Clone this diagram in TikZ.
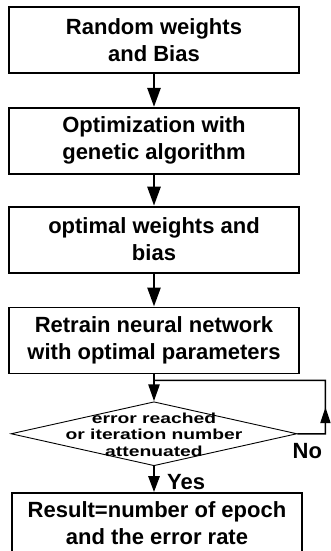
\documentclass[tikz,border=0pt]{standalone}
\usepackage{fontspec}
\setmainfont{Liberation Sans}
\newfontfamily\widesans[FakeStretch=1.33]{Liberation Sans}
\usepackage{tikz}
\usetikzlibrary{shapes.geometric, arrows.meta, positioning, calc}
\tikzset{
    block/.style={
        rectangle,
        minimum width=290pt,
        minimum height=66pt,
        align=center,
        draw=black,
        line width=1.8pt,
        inner sep=2pt,
        font=\bfseries\fontsize{22}{27}\selectfont
    },
    decision/.style={
        diamond,
        minimum width=286pt,
        minimum height=64pt,
        draw=black,
        line width=0.9pt,
        inner sep=0pt
    },
    decisiontext/.style={
        align=center,
        inner sep=0pt,
        font=\widesans\bfseries\fontsize{14.5}{16.5}\selectfont
    },
    lbl/.style={
        inner sep=0pt,
        font=\bfseries\fontsize{22}{27}\selectfont
    },
    arrow/.style={
        line width=2.6pt,
        -{Triangle[width=13pt,length=19pt]}
    },
    loopline/.style={
        line width=1.5pt
    }
}
\begin{document}
\begin{tikzpicture}

    \useasboundingbox (0,0) rectangle (331pt,-551pt);

    % --- main column ---
    \node (init) [block] at (154pt,-40pt) {Random weights\\and Bias};
    \node (genetic) [block, below=33pt of init] {Optimization with\\genetic algorithm};
    \node (optimal) [block, below=31pt of genetic] {optimal weights and\\bias};
    \node (retrain) [block, below=33pt of optimal] {Retrain neural network\\with optimal parameters};

    % --- test ---
    \node (check) [decision, below=27pt of retrain] {};
    \node (checktext) [decisiontext, yshift=-1pt] at (check) {error reached\\or iteration number\\attenuated};

    \node (result) [block, below=26pt of check, xshift=3pt, minimum height=67pt, text depth=7pt] {Result=number of epoch\\and the error rate};

    \draw [arrow] (init) -- (genetic);
    \draw [arrow] (genetic) -- (optimal);
    \draw [arrow] (optimal) -- (retrain);
    \draw [arrow, -{Triangle[width=11pt,length=17pt]}] (retrain) -- (check);
    \draw [arrow, -{Triangle[width=11pt,length=16pt]}] (check.south) -- (check.south |- result.north);

    % --- loop back (No) ---
    \coordinate (loopright) at ($(check.east)+(28pt,0)$);
    \coordinate (looptop) at ($(retrain.south -| loopright)+(0,-6pt)$);
    \draw [loopline, -{Triangle[width=10pt,length=16pt]}] (check.east) -- (loopright) -- ($(loopright)!0.5!(looptop)$);
    \draw [loopline] ($(loopright)!0.45!(looptop)$) -- (looptop) -- (looptop -| check.north);

    \node (yeslabel) [lbl, anchor=base west] at ($(check.south)+(13pt,-23pt)$) {Yes};
    \node (nolabel) [lbl, anchor=base west] at ($(check.east)+(-5pt,-25pt)$) {No};

\end{tikzpicture}
\end{document}
